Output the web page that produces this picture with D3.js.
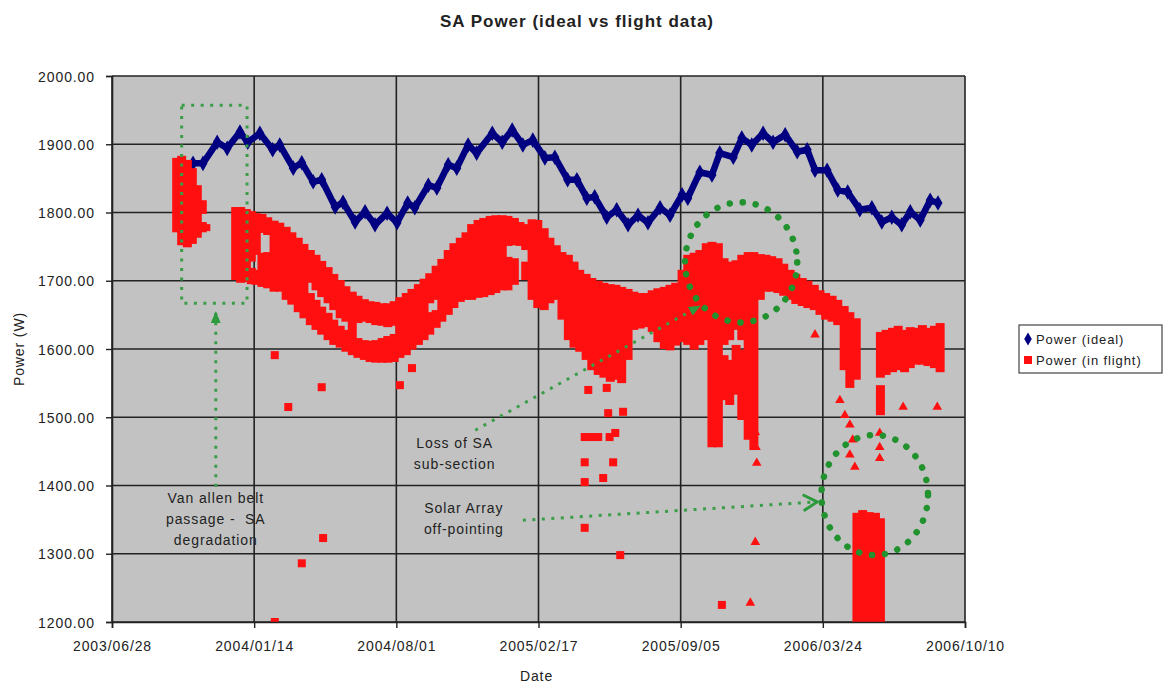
<!DOCTYPE html>
<html>
<head>
<meta charset="utf-8">
<script src="https://cdn.jsdelivr.net/npm/d3@7"></script>
<style>
    body { margin: 0; background: #fff; }
    svg text { font-family: "Liberation Sans", Arial, sans-serif; fill: #222; }
</style>
</head>
<body>
<svg id="chart"></svg>
<script>
// ---- data (days counted from the first axis date) ----
const startDate = "2003/06/28";
const xTickLabels = ["2003/06/28", "2004/01/14", "2004/08/01", "2005/02/17", "2005/09/05", "2006/03/24", "2006/10/10"];
const yTickValues = [1200, 1300, 1400, 1500, 1600, 1700, 1800, 1900, 2000];

const idealDays = [114,128,148,162,180,191,208,226,236,255,267,283,295,314,325,342,356,370,387,401,
    416,426,445,457,473,485,501,513,535,549,563,578,592,609,623,641,654,668,679,696,
    710,726,740,754,771,785,802,810,827,844,855,874,886,900,916,930,947,964,978,989,
    1006,1021,1035,1052,1069,1083,1097,1111,1123,1137,1151,1162];
const idealPower = [1872,1872,1903,1894,1918,1903,1916,1892,1899,1865,1873,1845,1848,1808,1815,1786,1801,1782,1799,1785,
    1814,1807,1840,1836,1870,1865,1899,1887,1916,1903,1921,1899,1906,1880,1881,1848,1848,1821,1823,1793,
    1804,1782,1796,1785,1807,1796,1826,1821,1859,1855,1887,1881,1909,1899,1916,1903,1914,1889,1892,1862,
    1862,1833,1830,1804,1807,1786,1793,1782,1801,1789,1818,1814];

// in-flight readings: dense clusters as [day, lowest, highest]
const flightBands = [
    [91,1771,1880],[98,1752,1883],[106,1749,1877],[113,1754,1865],[120,1763,1840],[127,1798,1818],[127,1771,1786],[132,1774,1783],
    [174,1701,1808],[181,1697,1808],[189,1698,1805],[196,1728,1802],[196,1695,1719],[203,1738,1799],[203,1694,1716],
    [211,1770,1798],[211,1691,1741],[219,1767,1793],[219,1689,1742],[228,1684,1788],[236,1684,1785],[245,1672,1779],
    [253,1665,1771],[262,1654,1763],[270,1645,1754],[279,1697,1745],[279,1635,1682],[287,1686,1738],[287,1628,1672],
    [295,1676,1729],[295,1621,1662],[304,1667,1720],[304,1613,1653],[312,1657,1710],[312,1606,1643],[321,1645,1701],
    [321,1602,1634],[329,1640,1692],[329,1596,1628],[338,1591,1684],[346,1638,1678],[346,1587,1616],[355,1640,1673],
    [355,1584,1613],[363,1638,1670],[363,1581,1612],[371,1635,1669],[371,1580,1613],[380,1634,1667],[380,1580,1616],
    [388,1632,1667],[388,1580,1619],[397,1634,1670],[397,1581,1622],[405,1587,1676],[414,1591,1682],[422,1599,1688],
    [431,1606,1695],[439,1613,1703],[447,1667,1711],[447,1621,1654],[456,1672,1722],[456,1631,1657],[464,1640,1732],
    [473,1650,1745],[481,1660,1755],[490,1669,1763],
    [498,1672,1771],[506,1672,1783],[515,1675,1789],[523,1676,1792],[532,1679,1795],[540,1682,1796],[549,1686,1796],
    [557,1751,1795],[557,1686,1735],[566,1752,1792],[566,1694,1733],[574,1751,1786],[582,1745,1783],[582,1701,1728],
    [591,1672,1790],[599,1660,1789],[608,1657,1777],[616,1667,1763],[625,1672,1752],[633,1643,1742],[642,1613,1738],
    [650,1602,1728],[658,1596,1716],[667,1584,1710],[675,1569,1704],[684,1562,1700],[692,1558,1697],[701,1552,1695],
    [709,1555,1694],[717,1550,1691],[726,1584,1688],[734,1628,1684],[743,1630,1682],[751,1632,1682],[760,1625,1686],
    [768,1610,1689],[777,1600,1691],[785,1598,1694],[793,1605,1697],[802,1610,1716],
    [810,1606,1738],[819,1599,1741],[827,1606,1745],[836,1613,1755],[844,1456,1757],[853,1456,1755],[861,1606,1733],
    [861,1525,1591],[869,1613,1728],[869,1518,1584],[878,1628,1730],[878,1533,1606],[886,1613,1738],[886,1496,1599],
    [895,1467,1742],[903,1452,1742],[912,1672,1739],[920,1684,1738],[928,1684,1736],[937,1682,1733],[945,1678,1725],
    [954,1672,1716],[962,1666,1710],[971,1663,1704],[979,1660,1700],[988,1657,1694],[996,1650,1686],[1004,1643,1682],
    [1013,1640,1678],[1021,1635,1672],[1030,1569,1663],[1038,1543,1654],[1047,1555,1645],
    [1048,1200,1360],[1056,1200,1364],[1065,1200,1361],[1074,1200,1360],[1081,1200,1352],
    [1081,1558,1625],[1081,1503,1547],[1089,1562,1628],[1098,1566,1631],[1106,1569,1634],[1115,1566,1628],
    [1123,1572,1632],[1131,1577,1631],[1140,1577,1635],[1148,1575,1631],[1157,1572,1634],[1165,1566,1638]
];
// isolated in-flight readings [day, power]
const flightSquares = [[229,1591],[248,1515],[295,1544],[267,1286],[297,1323],[229,1200],[405,1547],[422,1572],
    [670,1540],[696,1543],[698,1506],[719,1508],[665,1471],[675,1471],[684,1471],[700,1471],[708,1477],
    [665,1434],[705,1434],[665,1405],[691,1411],[665,1338],[715,1298],[858,1225]];
const flightTriangles = [[989,1621],[1024,1525],[1031,1503],[1038,1489],[1042,1467],[1038,1445],[1045,1427],
    [1080,1477],[1080,1456],[1080,1440],[902,1496],[905,1478],[906,1456],[907,1433],[905,1317],[898,1228],
    [1113,1515],[1161,1515]];

// annotations, placed in data units
const noteBoxes = [{ day0: 98, day1: 190, low: 1667, high: 1957 }];
const noteEllipses = [
    { day: 885, value: 1727, rDays: 79, rValue: 88 },
    { day: 1073, value: 1386, rDays: 75, rValue: 88 }
];
const noteArrows = [
    { from: [146, 1398], to: [146, 1654], head: "solid" },
    { from: [511, 1481], to: [827, 1663], head: "solid" },
    { from: [578, 1349], to: [992, 1376], head: "open" }
];
const noteTexts = [
    { day: 146, value: 1374, lines: ["Van allen belt", "passage -  SA", "degradation"] },
    { day: 482, value: 1455, lines: ["Loss of SA", "sub-section"] },
    { day: 495, value: 1360, lines: ["Solar Array", "off-pointing"] }
];

class SAPowerChart {
    constructor(_config) {
        this.config = {
            parentElement: _config.parentElement,
            containerWidth: _config.containerWidth || 1163,
            containerHeight: _config.containerHeight || 684,
            margin: _config.margin || { top: 76, right: 198, bottom: 62, left: 112 }
        };
        this.initVis();
    }

    initVis() {
        let vis = this;

        vis.width = vis.config.containerWidth - vis.config.margin.left - vis.config.margin.right;
        vis.height = vis.config.containerHeight - vis.config.margin.top - vis.config.margin.bottom;

        vis.parseDate = d3.utcParse("%Y/%m/%d");
        vis.t0 = vis.parseDate(startDate);
        vis.xTicks = xTickLabels.map(vis.parseDate);

        vis.xScale = d3.scaleUtc()
            .domain([vis.xTicks[0], vis.xTicks[vis.xTicks.length - 1]])
            .range([0, vis.width]);

        vis.yScale = d3.scaleLinear()
            .domain([1200, 2000])
            .range([vis.height, 0]);

        vis.xAxis = d3.axisBottom(vis.xScale)
            .tickValues(vis.xTicks)
            .tickFormat(d3.utcFormat("%Y/%m/%d"))
            .tickSize(6)
            .tickPadding(13);

        vis.yAxis = d3.axisLeft(vis.yScale)
            .tickValues(yTickValues)
            .tickFormat(d3.format(".2f"))
            .tickSize(6)
            .tickPadding(11);

        vis.svg = d3.select(vis.config.parentElement)
            .attr('width', vis.config.containerWidth)
            .attr('height', vis.config.containerHeight);

        let defs = vis.svg.append('defs');
        defs.append('clipPath').attr('id', 'plot-clip')
            .append('rect')
            .attr('width', vis.width)
            .attr('height', vis.height);

        defs.append('marker')
            .attr('id', 'head-solid')
            .attr('viewBox', '0 0 12 10')
            .attr('refX', 11).attr('refY', 5)
            .attr('markerWidth', 12).attr('markerHeight', 10)
            .attr('markerUnits', 'userSpaceOnUse')
            .attr('orient', 'auto')
            .append('path')
            .attr('d', 'M0,0 L12,5 L0,10 Z')
            .attr('fill', '#2e9a3e');

        defs.append('marker')
            .attr('id', 'head-open')
            .attr('viewBox', '-2 -2 18 20')
            .attr('refX', 14).attr('refY', 8)
            .attr('markerWidth', 18).attr('markerHeight', 20)
            .attr('markerUnits', 'userSpaceOnUse')
            .attr('orient', 'auto')
            .append('path')
            .attr('d', 'M0,0 L14,8 L0,16')
            .attr('fill', 'none')
            .attr('stroke', '#2e9a3e')
            .attr('stroke-width', 3);

        vis.chart = vis.svg.append('g')
            .attr('transform', `translate(${vis.config.margin.left},${vis.config.margin.top})`);

        vis.renderVis();
    }

    day(d) {
        return d3.utcDay.offset(this.t0, d);
    }

    renderVis() {
        let vis = this;
        let x = d => vis.xScale(vis.day(d));
        let y = vis.yScale;

        // plot area + gridlines
        vis.chart.append('rect')
            .attr('width', vis.width)
            .attr('height', vis.height)
            .attr('fill', '#c2c2c2');

        vis.chart.append('g').selectAll('line')
            .data(yTickValues)
            .join('line')
            .attr('x1', 0).attr('x2', vis.width)
            .attr('y1', d => y(d)).attr('y2', d => y(d))
            .attr('stroke', '#222')
            .attr('stroke-width', 1.6);

        vis.chart.append('g').selectAll('line')
            .data(vis.xTicks)
            .join('line')
            .attr('x1', d => vis.xScale(d)).attr('x2', d => vis.xScale(d))
            .attr('y1', 0).attr('y2', vis.height)
            .attr('stroke', '#222')
            .attr('stroke-width', 1.6);

        let plot = vis.chart.append('g').attr('clip-path', 'url(#plot-clip)');

        // ideal power: dense diamonds, drawn as a thick chain
        let ideal = idealDays.map((d, i) => [d, idealPower[i]]);
        plot.append('path')
            .datum(ideal)
            .attr('fill', 'none')
            .attr('stroke', '#000080')
            .attr('stroke-width', 6.5)
            .attr('stroke-linejoin', 'round')
            .attr('d', d3.line().x(d => x(d[0])).y(d => y(d[1])));

        plot.append('g').selectAll('path')
            .data(ideal)
            .join('path')
            .attr('transform', d => `translate(${x(d[0])},${y(d[1])})`)
            .attr('d', d3.symbol(d3.symbolDiamond, 70))
            .attr('fill', '#000080');

        // in-flight power
        plot.append('g').selectAll('rect')
            .data(flightBands)
            .join('rect')
            .attr('x', d => x(d[0]) - 4.5)
            .attr('y', d => y(d[2]))
            .attr('width', 9)
            .attr('height', d => Math.max(7, y(d[1]) - y(d[2])))
            .attr('fill', '#ff0f0f');

        plot.append('g').selectAll('rect')
            .data(flightSquares)
            .join('rect')
            .attr('x', d => x(d[0]) - 4)
            .attr('y', d => y(d[1]) - 4)
            .attr('width', 8)
            .attr('height', 8)
            .attr('fill', '#ff0f0f');

        plot.append('g').selectAll('path')
            .data(flightTriangles)
            .join('path')
            .attr('transform', d => `translate(${x(d[0])},${y(d[1])})`)
            .attr('d', d3.symbol(d3.symbolTriangle, 40))
            .attr('fill', '#ff0f0f');

        // annotations
        let notes = vis.chart.append('g');

        notes.selectAll('.note-box')
            .data(noteBoxes)
            .join('rect')
            .attr('class', 'note-box')
            .attr('x', d => x(d.day0))
            .attr('y', d => y(d.high))
            .attr('width', d => x(d.day1) - x(d.day0))
            .attr('height', d => y(d.low) - y(d.high))
            .attr('fill', 'none')
            .attr('stroke', '#3a9d48')
            .attr('stroke-width', 3)
            .attr('stroke-dasharray', '3,6.5');

        notes.selectAll('.note-ellipse')
            .data(noteEllipses)
            .join('ellipse')
            .attr('class', 'note-ellipse')
            .attr('cx', d => x(d.day))
            .attr('cy', d => y(d.value))
            .attr('rx', d => x(d.day + d.rDays) - x(d.day))
            .attr('ry', d => y(d.value - d.rValue) - y(d.value))
            .attr('fill', 'none')
            .attr('stroke', '#22922f')
            .attr('stroke-width', 6.5)
            .attr('stroke-linecap', 'round')
            .attr('stroke-dasharray', '0.1,13');

        notes.selectAll('.note-arrow')
            .data(noteArrows)
            .join('line')
            .attr('class', 'note-arrow')
            .attr('x1', d => x(d.from[0])).attr('y1', d => y(d.from[1]))
            .attr('x2', d => x(d.to[0])).attr('y2', d => y(d.to[1]))
            .attr('stroke', '#3a9d48')
            .attr('stroke-width', 3)
            .attr('stroke-dasharray', '3,6.5')
            .attr('marker-end', d => d.head === 'open' ? 'url(#head-open)' : 'url(#head-solid)');

        notes.selectAll('.note-text')
            .data(noteTexts)
            .join('text')
            .attr('class', 'note-text')
            .attr('text-anchor', 'middle')
            .attr('font-size', 14)
            .attr('letter-spacing', 0.9)
            .style('white-space', 'pre')
            .each(function (d) {
                d3.select(this).selectAll('tspan')
                    .data(d.lines)
                    .join('tspan')
                    .attr('x', x(d.day))
                    .attr('y', (t, i) => y(d.value) + i * 21)
                    .text(t => t);
            });

        // axes
        let xAxisG = vis.chart.append('g')
            .attr('transform', `translate(0,${vis.height})`)
            .call(vis.xAxis);
        let yAxisG = vis.chart.append('g').call(vis.yAxis);

        [xAxisG, yAxisG].forEach(g => {
            g.select('.domain').attr('stroke', '#222').attr('stroke-width', 1.6);
            g.selectAll('.tick line').attr('stroke', '#222').attr('stroke-width', 1.4);
            g.selectAll('.tick text')
                .attr('font-size', 14)
                .attr('letter-spacing', 0.9)
                .attr('fill', '#222')
                .style('font-family', '"Liberation Sans", Arial, sans-serif');
        });
        yAxisG.selectAll('.tick text').attr('dy', '0.36em');

        // titles
        vis.svg.append('text')
            .attr('x', 577).attr('y', 27)
            .attr('text-anchor', 'middle')
            .attr('font-size', 17)
            .attr('font-weight', 'bold')
            .attr('letter-spacing', 1)
            .text('SA Power (ideal vs flight data)');

        vis.svg.append('text')
            .attr('x', vis.config.margin.left + vis.width / 2 - 2)
            .attr('y', 681)
            .attr('text-anchor', 'middle')
            .attr('font-size', 14)
            .attr('letter-spacing', 0.9)
            .text('Date');

        vis.svg.append('text')
            .attr('transform', `translate(24,${vis.config.margin.top + vis.height / 2}) rotate(-90)`)
            .attr('text-anchor', 'middle')
            .attr('font-size', 14)
            .attr('letter-spacing', 0.9)
            .text('Power (W)');

        // legend
        let legend = vis.svg.append('g').attr('transform', 'translate(1019,325)');
        legend.append('rect')
            .attr('width', 143).attr('height', 48)
            .attr('fill', '#fff')
            .attr('stroke', '#444')
            .attr('stroke-width', 1.2);
        legend.append('path')
            .attr('transform', 'translate(9,14)')
            .attr('d', d3.symbol(d3.symbolDiamond, 50))
            .attr('fill', '#000080');
        legend.append('rect')
            .attr('x', 5).attr('y', 31)
            .attr('width', 8).attr('height', 8)
            .attr('fill', '#ff0f0f');
        legend.selectAll('.legend-label')
            .data(['Power (ideal)', 'Power (in flight)'])
            .join('text')
            .attr('class', 'legend-label')
            .attr('x', 17)
            .attr('y', (d, i) => 19 + i * 21)
            .attr('font-size', 13)
            .attr('letter-spacing', 0.9)
            .text(d => d);
    }
}

new SAPowerChart({ parentElement: '#chart' });
</script>
</body>
</html>
